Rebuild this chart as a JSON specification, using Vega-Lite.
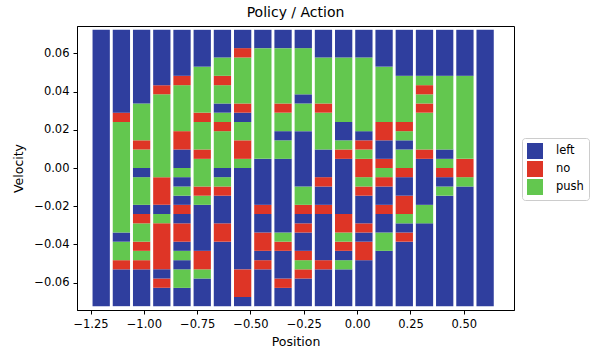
{
  "$schema": "https://vega.github.io/schema/vega-lite/v6.json",
  "width": 437,
  "height": 284,
  "autosize": {"type": "none"},
  "padding": {"left": 77, "top": 26, "right": 81, "bottom": 47},
  "title": {"text": "Policy / Action", "offset": 6},
  "data": {"values": [
    {"p":-1.2,"v0":-0.0724,"v1":0.0724,"a":"left"},

    {"p":-1.1053,"v0":-0.0724,"v1":-0.0531,"a":"left"},
    {"p":-1.1053,"v0":-0.0531,"v1":-0.0483,"a":"no"},
    {"p":-1.1053,"v0":-0.0483,"v1":-0.0386,"a":"push"},
    {"p":-1.1053,"v0":-0.0386,"v1":-0.0338,"a":"left"},
    {"p":-1.1053,"v0":-0.0338,"v1":0.0241,"a":"push"},
    {"p":-1.1053,"v0":0.0241,"v1":0.029,"a":"no"},
    {"p":-1.1053,"v0":0.029,"v1":0.0724,"a":"left"},

    {"p":-1.0105,"v0":-0.0724,"v1":-0.0531,"a":"left"},
    {"p":-1.0105,"v0":-0.0531,"v1":-0.0483,"a":"no"},
    {"p":-1.0105,"v0":-0.0483,"v1":-0.0434,"a":"push"},
    {"p":-1.0105,"v0":-0.0434,"v1":-0.0386,"a":"no"},
    {"p":-1.0105,"v0":-0.0386,"v1":-0.029,"a":"push"},
    {"p":-1.0105,"v0":-0.029,"v1":-0.0241,"a":"no"},
    {"p":-1.0105,"v0":-0.0241,"v1":-0.0193,"a":"left"},
    {"p":-1.0105,"v0":-0.0193,"v1":-0.0048,"a":"push"},
    {"p":-1.0105,"v0":-0.0048,"v1":0,"a":"left"},
    {"p":-1.0105,"v0":0,"v1":0.0097,"a":"push"},
    {"p":-1.0105,"v0":0.0097,"v1":0.0145,"a":"no"},
    {"p":-1.0105,"v0":0.0145,"v1":0.0338,"a":"push"},
    {"p":-1.0105,"v0":0.0338,"v1":0.0724,"a":"left"},

    {"p":-0.9158,"v0":-0.0724,"v1":-0.0628,"a":"left"},
    {"p":-0.9158,"v0":-0.0628,"v1":-0.0579,"a":"no"},
    {"p":-0.9158,"v0":-0.0579,"v1":-0.0531,"a":"left"},
    {"p":-0.9158,"v0":-0.0531,"v1":-0.029,"a":"no"},
    {"p":-0.9158,"v0":-0.029,"v1":-0.0241,"a":"push"},
    {"p":-0.9158,"v0":-0.0241,"v1":-0.0193,"a":"left"},
    {"p":-0.9158,"v0":-0.0193,"v1":-0.0048,"a":"no"},
    {"p":-0.9158,"v0":-0.0048,"v1":0.0386,"a":"push"},
    {"p":-0.9158,"v0":0.0386,"v1":0.0434,"a":"no"},
    {"p":-0.9158,"v0":0.0434,"v1":0.0724,"a":"left"},

    {"p":-0.8211,"v0":-0.0724,"v1":-0.0628,"a":"left"},
    {"p":-0.8211,"v0":-0.0628,"v1":-0.0531,"a":"push"},
    {"p":-0.8211,"v0":-0.0531,"v1":-0.0483,"a":"left"},
    {"p":-0.8211,"v0":-0.0483,"v1":-0.0434,"a":"push"},
    {"p":-0.8211,"v0":-0.0434,"v1":-0.0386,"a":"left"},
    {"p":-0.8211,"v0":-0.0386,"v1":-0.029,"a":"no"},
    {"p":-0.8211,"v0":-0.029,"v1":-0.0241,"a":"left"},
    {"p":-0.8211,"v0":-0.0241,"v1":-0.0193,"a":"no"},
    {"p":-0.8211,"v0":-0.0193,"v1":-0.0145,"a":"left"},
    {"p":-0.8211,"v0":-0.0145,"v1":-0.0097,"a":"push"},
    {"p":-0.8211,"v0":-0.0097,"v1":-0.0048,"a":"left"},
    {"p":-0.8211,"v0":-0.0048,"v1":0,"a":"push"},
    {"p":-0.8211,"v0":0,"v1":0.0097,"a":"left"},
    {"p":-0.8211,"v0":0.0097,"v1":0.0193,"a":"no"},
    {"p":-0.8211,"v0":0.0193,"v1":0.0434,"a":"push"},
    {"p":-0.8211,"v0":0.0434,"v1":0.0483,"a":"no"},
    {"p":-0.8211,"v0":0.0483,"v1":0.0724,"a":"left"},

    {"p":-0.7263,"v0":-0.0724,"v1":-0.0579,"a":"left"},
    {"p":-0.7263,"v0":-0.0579,"v1":-0.0531,"a":"push"},
    {"p":-0.7263,"v0":-0.0531,"v1":-0.0434,"a":"no"},
    {"p":-0.7263,"v0":-0.0434,"v1":-0.0193,"a":"left"},
    {"p":-0.7263,"v0":-0.0193,"v1":-0.0145,"a":"push"},
    {"p":-0.7263,"v0":-0.0145,"v1":-0.0097,"a":"no"},
    {"p":-0.7263,"v0":-0.0097,"v1":0.0048,"a":"push"},
    {"p":-0.7263,"v0":0.0048,"v1":0.0097,"a":"no"},
    {"p":-0.7263,"v0":0.0097,"v1":0.0241,"a":"push"},
    {"p":-0.7263,"v0":0.0241,"v1":0.029,"a":"no"},
    {"p":-0.7263,"v0":0.029,"v1":0.0531,"a":"push"},
    {"p":-0.7263,"v0":0.0531,"v1":0.0724,"a":"left"},

    {"p":-0.6316,"v0":-0.0724,"v1":-0.0386,"a":"left"},
    {"p":-0.6316,"v0":-0.0386,"v1":-0.029,"a":"no"},
    {"p":-0.6316,"v0":-0.029,"v1":-0.0145,"a":"left"},
    {"p":-0.6316,"v0":-0.0145,"v1":-0.0097,"a":"no"},
    {"p":-0.6316,"v0":-0.0097,"v1":-0.0048,"a":"push"},
    {"p":-0.6316,"v0":-0.0048,"v1":0,"a":"left"},
    {"p":-0.6316,"v0":0,"v1":0.0193,"a":"push"},
    {"p":-0.6316,"v0":0.0193,"v1":0.0241,"a":"no"},
    {"p":-0.6316,"v0":0.0241,"v1":0.029,"a":"push"},
    {"p":-0.6316,"v0":0.029,"v1":0.0338,"a":"left"},
    {"p":-0.6316,"v0":0.0338,"v1":0.0434,"a":"push"},
    {"p":-0.6316,"v0":0.0434,"v1":0.0483,"a":"no"},
    {"p":-0.6316,"v0":0.0483,"v1":0.0579,"a":"push"},
    {"p":-0.6316,"v0":0.0579,"v1":0.0724,"a":"left"},

    {"p":-0.5368,"v0":-0.0724,"v1":-0.0676,"a":"left"},
    {"p":-0.5368,"v0":-0.0676,"v1":-0.0531,"a":"no"},
    {"p":-0.5368,"v0":-0.0531,"v1":0,"a":"left"},
    {"p":-0.5368,"v0":0,"v1":0.0048,"a":"push"},
    {"p":-0.5368,"v0":0.0048,"v1":0.0145,"a":"no"},
    {"p":-0.5368,"v0":0.0145,"v1":0.0241,"a":"push"},
    {"p":-0.5368,"v0":0.0241,"v1":0.029,"a":"left"},
    {"p":-0.5368,"v0":0.029,"v1":0.0338,"a":"no"},
    {"p":-0.5368,"v0":0.0338,"v1":0.0579,"a":"push"},
    {"p":-0.5368,"v0":0.0579,"v1":0.0628,"a":"no"},
    {"p":-0.5368,"v0":0.0628,"v1":0.0724,"a":"left"},

    {"p":-0.4421,"v0":-0.0724,"v1":-0.0531,"a":"left"},
    {"p":-0.4421,"v0":-0.0531,"v1":-0.0483,"a":"no"},
    {"p":-0.4421,"v0":-0.0483,"v1":-0.0434,"a":"left"},
    {"p":-0.4421,"v0":-0.0434,"v1":-0.0338,"a":"no"},
    {"p":-0.4421,"v0":-0.0338,"v1":-0.0241,"a":"left"},
    {"p":-0.4421,"v0":-0.0241,"v1":-0.0193,"a":"no"},
    {"p":-0.4421,"v0":-0.0193,"v1":0.0048,"a":"left"},
    {"p":-0.4421,"v0":0.0048,"v1":0.0628,"a":"push"},
    {"p":-0.4421,"v0":0.0628,"v1":0.0724,"a":"left"},

    {"p":-0.3474,"v0":-0.0724,"v1":-0.0628,"a":"left"},
    {"p":-0.3474,"v0":-0.0628,"v1":-0.0579,"a":"no"},
    {"p":-0.3474,"v0":-0.0579,"v1":-0.0434,"a":"left"},
    {"p":-0.3474,"v0":-0.0434,"v1":-0.0386,"a":"no"},
    {"p":-0.3474,"v0":-0.0386,"v1":-0.0338,"a":"push"},
    {"p":-0.3474,"v0":-0.0338,"v1":0.0048,"a":"left"},
    {"p":-0.3474,"v0":0.0048,"v1":0.0145,"a":"push"},
    {"p":-0.3474,"v0":0.0145,"v1":0.0193,"a":"left"},
    {"p":-0.3474,"v0":0.0193,"v1":0.029,"a":"push"},
    {"p":-0.3474,"v0":0.029,"v1":0.0338,"a":"no"},
    {"p":-0.3474,"v0":0.0338,"v1":0.0628,"a":"push"},
    {"p":-0.3474,"v0":0.0628,"v1":0.0724,"a":"left"},

    {"p":-0.2526,"v0":-0.0724,"v1":-0.0579,"a":"left"},
    {"p":-0.2526,"v0":-0.0579,"v1":-0.0531,"a":"no"},
    {"p":-0.2526,"v0":-0.0531,"v1":-0.0483,"a":"push"},
    {"p":-0.2526,"v0":-0.0483,"v1":-0.0434,"a":"no"},
    {"p":-0.2526,"v0":-0.0434,"v1":-0.0338,"a":"left"},
    {"p":-0.2526,"v0":-0.0338,"v1":-0.029,"a":"no"},
    {"p":-0.2526,"v0":-0.029,"v1":-0.0241,"a":"left"},
    {"p":-0.2526,"v0":-0.0241,"v1":-0.0193,"a":"no"},
    {"p":-0.2526,"v0":-0.0193,"v1":-0.0097,"a":"push"},
    {"p":-0.2526,"v0":-0.0097,"v1":0.0193,"a":"left"},
    {"p":-0.2526,"v0":0.0193,"v1":0.0338,"a":"push"},
    {"p":-0.2526,"v0":0.0338,"v1":0.0386,"a":"left"},
    {"p":-0.2526,"v0":0.0386,"v1":0.0628,"a":"push"},
    {"p":-0.2526,"v0":0.0628,"v1":0.0724,"a":"left"},

    {"p":-0.1579,"v0":-0.0724,"v1":-0.0531,"a":"left"},
    {"p":-0.1579,"v0":-0.0531,"v1":-0.0483,"a":"no"},
    {"p":-0.1579,"v0":-0.0483,"v1":-0.0241,"a":"left"},
    {"p":-0.1579,"v0":-0.0241,"v1":-0.0193,"a":"no"},
    {"p":-0.1579,"v0":-0.0193,"v1":-0.0097,"a":"left"},
    {"p":-0.1579,"v0":-0.0097,"v1":-0.0048,"a":"no"},
    {"p":-0.1579,"v0":-0.0048,"v1":0.0097,"a":"left"},
    {"p":-0.1579,"v0":0.0097,"v1":0.029,"a":"push"},
    {"p":-0.1579,"v0":0.029,"v1":0.0338,"a":"no"},
    {"p":-0.1579,"v0":0.0338,"v1":0.0579,"a":"push"},
    {"p":-0.1579,"v0":0.0579,"v1":0.0724,"a":"left"},

    {"p":-0.0632,"v0":-0.0724,"v1":-0.0531,"a":"left"},
    {"p":-0.0632,"v0":-0.0531,"v1":-0.0483,"a":"push"},
    {"p":-0.0632,"v0":-0.0483,"v1":-0.0434,"a":"left"},
    {"p":-0.0632,"v0":-0.0434,"v1":-0.0386,"a":"no"},
    {"p":-0.0632,"v0":-0.0386,"v1":-0.0338,"a":"push"},
    {"p":-0.0632,"v0":-0.0338,"v1":-0.0241,"a":"no"},
    {"p":-0.0632,"v0":-0.0241,"v1":0.0048,"a":"left"},
    {"p":-0.0632,"v0":0.0048,"v1":0.0097,"a":"no"},
    {"p":-0.0632,"v0":0.0097,"v1":0.0145,"a":"push"},
    {"p":-0.0632,"v0":0.0145,"v1":0.0241,"a":"left"},
    {"p":-0.0632,"v0":0.0241,"v1":0.0579,"a":"push"},
    {"p":-0.0632,"v0":0.0579,"v1":0.0724,"a":"left"},

    {"p":0.0316,"v0":-0.0724,"v1":-0.0483,"a":"left"},
    {"p":0.0316,"v0":-0.0483,"v1":-0.0386,"a":"no"},
    {"p":0.0316,"v0":-0.0386,"v1":-0.0338,"a":"left"},
    {"p":0.0316,"v0":-0.0338,"v1":-0.029,"a":"no"},
    {"p":0.0316,"v0":-0.029,"v1":-0.0145,"a":"left"},
    {"p":0.0316,"v0":-0.0145,"v1":-0.0097,"a":"no"},
    {"p":0.0316,"v0":-0.0097,"v1":-0.0048,"a":"push"},
    {"p":0.0316,"v0":-0.0048,"v1":0.0048,"a":"no"},
    {"p":0.0316,"v0":0.0048,"v1":0.0097,"a":"push"},
    {"p":0.0316,"v0":0.0097,"v1":0.0145,"a":"no"},
    {"p":0.0316,"v0":0.0145,"v1":0.0193,"a":"left"},
    {"p":0.0316,"v0":0.0193,"v1":0.0579,"a":"push"},
    {"p":0.0316,"v0":0.0579,"v1":0.0724,"a":"left"},

    {"p":0.1263,"v0":-0.0724,"v1":-0.0434,"a":"left"},
    {"p":0.1263,"v0":-0.0434,"v1":-0.0338,"a":"push"},
    {"p":0.1263,"v0":-0.0338,"v1":-0.0241,"a":"left"},
    {"p":0.1263,"v0":-0.0241,"v1":-0.0193,"a":"no"},
    {"p":0.1263,"v0":-0.0193,"v1":-0.0097,"a":"left"},
    {"p":0.1263,"v0":-0.0097,"v1":-0.0048,"a":"no"},
    {"p":0.1263,"v0":-0.0048,"v1":0,"a":"push"},
    {"p":0.1263,"v0":0,"v1":0.0048,"a":"no"},
    {"p":0.1263,"v0":0.0048,"v1":0.0145,"a":"left"},
    {"p":0.1263,"v0":0.0145,"v1":0.0241,"a":"no"},
    {"p":0.1263,"v0":0.0241,"v1":0.0531,"a":"push"},
    {"p":0.1263,"v0":0.0531,"v1":0.0724,"a":"left"},

    {"p":0.2211,"v0":-0.0724,"v1":-0.0386,"a":"left"},
    {"p":0.2211,"v0":-0.0386,"v1":-0.0338,"a":"no"},
    {"p":0.2211,"v0":-0.0338,"v1":-0.029,"a":"left"},
    {"p":0.2211,"v0":-0.029,"v1":-0.0241,"a":"push"},
    {"p":0.2211,"v0":-0.0241,"v1":-0.0145,"a":"no"},
    {"p":0.2211,"v0":-0.0145,"v1":-0.0048,"a":"left"},
    {"p":0.2211,"v0":-0.0048,"v1":0,"a":"no"},
    {"p":0.2211,"v0":0,"v1":0.0097,"a":"push"},
    {"p":0.2211,"v0":0.0097,"v1":0.0145,"a":"left"},
    {"p":0.2211,"v0":0.0145,"v1":0.0193,"a":"push"},
    {"p":0.2211,"v0":0.0193,"v1":0.0241,"a":"no"},
    {"p":0.2211,"v0":0.0241,"v1":0.0483,"a":"push"},
    {"p":0.2211,"v0":0.0483,"v1":0.0724,"a":"left"},

    {"p":0.3158,"v0":-0.0724,"v1":-0.029,"a":"left"},
    {"p":0.3158,"v0":-0.029,"v1":-0.0193,"a":"push"},
    {"p":0.3158,"v0":-0.0193,"v1":0.0048,"a":"left"},
    {"p":0.3158,"v0":0.0048,"v1":0.0097,"a":"no"},
    {"p":0.3158,"v0":0.0097,"v1":0.029,"a":"push"},
    {"p":0.3158,"v0":0.029,"v1":0.0338,"a":"no"},
    {"p":0.3158,"v0":0.0338,"v1":0.0386,"a":"push"},
    {"p":0.3158,"v0":0.0386,"v1":0.0434,"a":"no"},
    {"p":0.3158,"v0":0.0434,"v1":0.0483,"a":"push"},
    {"p":0.3158,"v0":0.0483,"v1":0.0724,"a":"left"},

    {"p":0.4105,"v0":-0.0724,"v1":-0.0145,"a":"left"},
    {"p":0.4105,"v0":-0.0145,"v1":-0.0097,"a":"push"},
    {"p":0.4105,"v0":-0.0097,"v1":-0.0048,"a":"left"},
    {"p":0.4105,"v0":-0.0048,"v1":0,"a":"no"},
    {"p":0.4105,"v0":0,"v1":0.0048,"a":"push"},
    {"p":0.4105,"v0":0.0048,"v1":0.0097,"a":"left"},
    {"p":0.4105,"v0":0.0097,"v1":0.0483,"a":"push"},
    {"p":0.4105,"v0":0.0483,"v1":0.0724,"a":"left"},

    {"p":0.5053,"v0":-0.0724,"v1":-0.0097,"a":"left"},
    {"p":0.5053,"v0":-0.0097,"v1":-0.0048,"a":"push"},
    {"p":0.5053,"v0":-0.0048,"v1":0.0048,"a":"no"},
    {"p":0.5053,"v0":0.0048,"v1":0.0483,"a":"push"},
    {"p":0.5053,"v0":0.0483,"v1":0.0724,"a":"left"},

    {"p":0.6,"v0":-0.0724,"v1":0.0724,"a":"left"}
  ]},
  "mark": {"type": "bar", "width": 17.3, "orient": "vertical"},
  "encoding": {
    "x": {"field": "p", "type": "quantitative", "title": "Position",
          "scale": {"domain": [-1.29, 0.712], "nice": false, "zero": false},
          "axis": {"values": [-1.25, -1, -0.75, -0.5, -0.25, 0, 0.25, 0.5], "format": ".2f", "titlePadding": 6}},
    "y": {"field": "v0", "type": "quantitative", "title": "Velocity",
          "scale": {"domain": [-0.0744, 0.0744], "nice": false, "zero": false},
          "axis": {"values": [-0.06, -0.04, -0.02, 0, 0.02, 0.04, 0.06], "format": ".2f", "titlePadding": 8}},
    "y2": {"field": "v1"},
    "color": {"field": "a", "type": "nominal",
              "scale": {"domain": ["left", "no", "push"], "range": ["#2f3e9e", "#de3526", "#63c74f"]},
              "legend": {"title": null, "orient": "none", "legendX": 445, "legendY": 112}}
  },
  "config": {
    "font": "DejaVu Sans",
    "view": {"stroke": "#000", "strokeWidth": 1},
    "axis": {"grid": false, "domainColor": "#000", "tickColor": "#000", "labelColor": "#000", "titleColor": "#000",
             "labelFontSize": 11.5, "titleFontSize": 12.5, "titleFontWeight": "normal", "tickSize": 4, "labelPadding": 4, "labelFont": "DejaVu Sans", "titleFont": "DejaVu Sans"},
    "title": {"fontSize": 14, "fontWeight": "normal", "color": "#000", "font": "DejaVu Sans"},
    "legend": {"padding": 5, "strokeColor": "#cccccc", "cornerRadius": 3, "fillColor": "#ffffff",
               "symbolType": "square", "symbolSize": 256, "symbolStrokeWidth": 0, "symbolOpacity": 1,
               "labelFontSize": 11.5, "labelOffset": 13, "rowPadding": 2, "labelColor": "#000", "labelFont": "DejaVu Sans"}
  }
}
